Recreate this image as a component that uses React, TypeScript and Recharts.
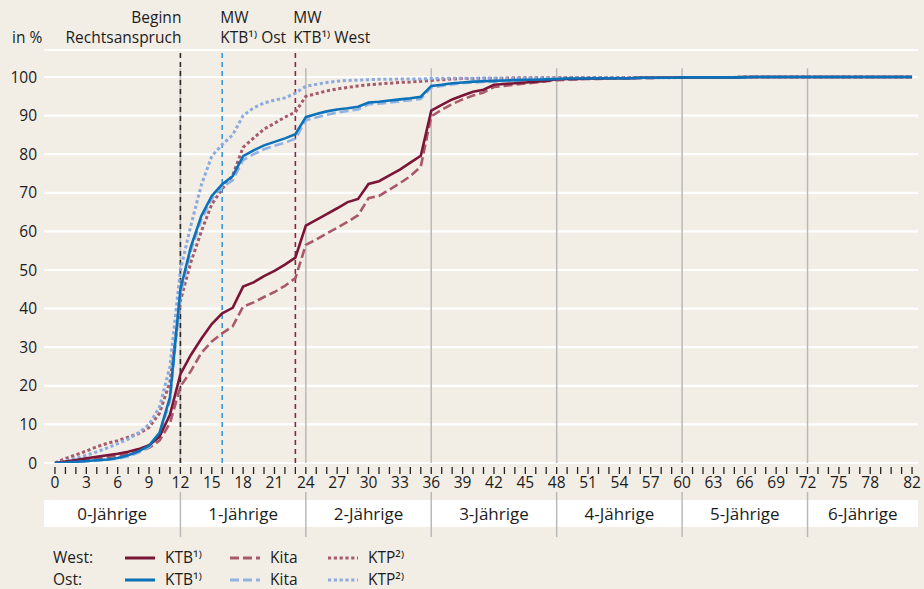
import React from 'react';
import { LineChart, Line, XAxis, YAxis, CartesianGrid, ReferenceLine, ReferenceArea, Legend } from 'recharts';

const months = [0,1,2,3,4,5,6,7,8,9,10,11,12,13,14,15,16,17,18,19,20,21,22,23,24,25,26,27,28,29,30,31,32,33,34,35,36,37,38,39,40,41,42,43,44,45,46,47,48,49,50,51,52,53,54,55,56,57,58,59,60,61,62,63,64,65,66,67,68,69,70,71,72,73,74,75,76,77,78,79,80,81,82];

const westKtb = [0,0.4,0.8,1.2,1.6,2.0,2.4,2.9,3.6,4.6,6.8,12.5,23,28,32.2,36,38.8,40.2,45.7,46.8,48.4,49.8,51.4,53.2,61.5,63,64.5,66,67.6,68.4,72.3,73,74.5,76,77.8,79.6,91.3,92.8,94.2,95.2,96.2,96.7,98,98.2,98.4,98.6,98.8,99,99.4,99.5,99.5,99.6,99.6,99.7,99.7,99.7,99.8,99.8,99.8,99.8,99.9,99.9,99.9,99.9,99.9,99.9,100,100,100,100,100,100,100,100,100,100,100,100,100,100,100,100,100];
const westKita = [0,0.3,0.6,0.9,1.2,1.5,1.9,2.4,3.0,3.9,5.8,10.3,19.8,23.8,28.5,31.5,33.6,35.4,40.5,41.6,43,44.3,45.9,47.9,56.5,57.9,59.5,60.9,62.5,64.2,68.6,69.2,70.8,72.5,74.3,76.8,89.8,91.5,93,94.2,95.2,96,97.4,97.7,98,98.3,98.6,98.9,99.2,99.3,99.4,99.5,99.5,99.6,99.6,99.7,99.7,99.7,99.8,99.8,99.8,99.9,99.9,99.9,99.9,99.9,100,100,100,100,100,100,100,100,100,100,100,100,100,100,100,100,100];
const westKtp = [0,1.2,2.1,3.1,4.2,5.1,5.8,6.7,7.6,9.2,12.9,21,42,52,60,67,71,74.5,81.8,84.2,86.5,88,89.6,90.9,95,95.7,96.4,96.9,97.3,97.7,98,98.2,98.4,98.6,98.7,98.9,99.1,99.3,99.5,99.6,99.6,99.7,99.7,99.7,99.8,99.8,99.8,99.8,99.8,99.9,99.9,99.9,99.9,99.9,99.9,99.9,99.9,99.9,99.9,99.9,99.9,99.9,99.9,99.9,99.9,99.9,100,100,100,100,100,100,100,100,100,100,100,100,100,100,100,100,100];
const ostKtb = [0,0.1,0.3,0.5,0.7,0.9,1.3,2.0,3.0,4.5,7.8,17,45,56,64,69.2,72.2,74.3,79.5,81,82.3,83.2,84.1,85.2,89.6,90.4,91.1,91.6,91.9,92.3,93.4,93.6,93.9,94.2,94.5,94.9,97.7,98,98.4,98.6,98.8,98.9,99,99.1,99.2,99.3,99.3,99.4,99.5,99.6,99.6,99.6,99.7,99.7,99.7,99.7,99.8,99.8,99.8,99.8,99.9,99.9,99.9,99.9,99.9,99.9,99.9,100,100,100,100,100,100,100,100,100,100,100,100,100,100,100,100];
const ostKita = [0,0.1,0.2,0.4,0.6,0.8,1.1,1.7,2.7,4.1,7.2,16,43.5,55,63,68.5,71.5,73.2,78.5,80,81.3,82.2,83,84,88.8,89.5,90.2,90.8,91.2,91.6,92.9,93.1,93.4,93.7,94,94.3,97.3,97.7,98.1,98.4,98.6,98.7,98.8,98.9,99,99.1,99.2,99.3,99.4,99.5,99.5,99.6,99.6,99.6,99.7,99.7,99.7,99.8,99.8,99.8,99.8,99.9,99.9,99.9,99.9,99.9,99.9,100,100,100,100,100,100,100,100,100,100,100,100,100,100,100,100];
const ostKtp = [0,0.5,1.2,2.0,2.9,3.9,5.0,6.2,7.8,10,14.5,25,50,61.5,72,79.5,82.5,85,90,92,93.3,94,94.6,95.8,97.6,98.1,98.6,98.9,99.1,99.2,99.3,99.4,99.4,99.5,99.5,99.5,99.6,99.7,99.7,99.7,99.7,99.7,99.7,99.7,99.7,99.7,99.7,99.7,99.7,99.8,99.8,99.8,99.8,99.8,99.8,99.8,99.8,99.8,99.8,99.8,99.9,99.9,99.9,99.9,99.9,99.9,100,100,100,100,100,100,100,100,100,100,100,100,100,100,100,100,100];

const yTicks = [0,10,20,30,40,50,60,70,80,90,100];
const yearBounds = [12,24,36,48,60,72];
const ageGroups = ['0-Jährige','1-Jährige','2-Jährige','3-Jährige','4-Jährige','5-Jährige','6-Jährige'];
const ageStarts = [-1.05,12,24,36,48,60,72];
const ageEnds = [12,24,36,48,60,72,82.57];

const data = months.map((m, i) => ({
  m,
  westKtb: westKtb[i],
  westKita: westKita[i],
  westKtp: westKtp[i],
  ostKtb: ostKtb[i],
  ostKita: ostKita[i],
  ostKtp: ostKtp[i],
}));

const C = {
  westKtb: '#7b1538',
  westKita: '#a85a6b',
  westKtp: '#a65a6c',
  ostKtb: '#0b72b9',
  ostKita: '#92b2e0',
  ostKtp: '#8caadd',
};

const series = [
  { key: 'westKtp', color: C.westKtp, width: 3, dash: '3.2 2.6' },
  { key: 'ostKtp', color: C.ostKtp, width: 3, dash: '3.2 2.6' },
  { key: 'westKita', color: C.westKita, width: 2.6, dash: '9 4' },
  { key: 'ostKita', color: C.ostKita, width: 2.6, dash: '9 4' },
  { key: 'westKtb', color: C.westKtb, width: 2.6, dash: undefined },
  { key: 'ostKtb', color: C.ostKtb, width: 2.6, dash: undefined },
];

const legendRows = [
  { label: 'West:', items: [
    { name: 'KTB¹⁾', color: C.westKtb, dash: undefined },
    { name: 'Kita', color: C.westKita, dash: '9 4' },
    { name: 'KTP²⁾', color: C.westKtp, dash: '3.2 2.6' },
  ] },
  { label: 'Ost:', items: [
    { name: 'KTB¹⁾', color: C.ostKtb, dash: undefined },
    { name: 'Kita', color: C.ostKita, dash: '9 4' },
    { name: 'KTP²⁾', color: C.ostKtp, dash: '3.2 2.6' },
  ] },
];

const FONT = '"Open Sans", sans-serif';
const TXT = '#1c1c1c';

function XTick(props: any) {
  const { x, y, payload } = props;
  const v = payload.value;
  const show = (v % 3 === 0 && v <= 78) || v === 82;
  return (
    <g>
      <line x1={x} x2={x} y1={y + 4} y2={y + 11} stroke="#222" strokeWidth={1.3} />
      {show && (
        <text x={x} y={y + 25} textAnchor="middle" fontSize={15.5} fill={TXT}>{v}</text>
      )}
    </g>
  );
}

function LegendContent() {
  const sx = [125, 230, 328];
  return (
    <svg width={924} height={46} style={{ display: 'block' }}>
      {legendRows.map((row, r) => {
        const cy = 15 + r * 22;
        return (
          <g key={r}>
            <text x={53} y={cy + 5} fontSize={15.5} fill={TXT}>{row.label}</text>
            {row.items.map((it, i) => (
              <g key={i}>
                <line x1={sx[i]} x2={sx[i] + 30} y1={cy} y2={cy} stroke={it.color} strokeWidth={3} strokeDasharray={it.dash} />
                <text x={sx[i] + 40} y={cy + 5} fontSize={15.5} fill={TXT}>{it.name}</text>
              </g>
            ))}
          </g>
        );
      })}
    </svg>
  );
}

function TopLabel(props: any) {
  const { viewBox, lines, anchor, dx } = props;
  const x = viewBox.x + dx;
  const y = viewBox.y;
  return (
    <g>
      {lines.map((t: string, i: number) => (
        <text key={i} x={x} y={y - 27 + i * 20} textAnchor={anchor} fontSize={15.5} fill={TXT}>{t}</text>
      ))}
    </g>
  );
}

export default function App() {
  return (
    <div style={{ position: 'absolute', left: 0, top: 0, width: 924, height: 589, background: '#f2eee6', fontFamily: FONT }}>
      <LineChart width={924} height={589} data={data} margin={{ top: 50, right: 6, bottom: 50, left: 0 }}>
        <CartesianGrid horizontal={true} vertical={false} stroke="#ffffff" strokeWidth={2.2} />
        <XAxis
          dataKey="m"
          type="number"
          domain={[-1.05, 82.57]}
          allowDataOverflow
          ticks={months}
          interval={0}
          height={30}
          axisLine={false}
          tickLine={false}
          tickSize={0}
          tickMargin={0}
          tick={<XTick />}
        />
        <YAxis
          type="number"
          domain={[0, 107]}
          allowDataOverflow
          ticks={yTicks}
          width={44}
          axisLine={false}
          tickLine={false}
          tickSize={0}
          tickMargin={7}
          tick={{ fontSize: 15.5, fill: TXT }}
          label={{ content: () => <text x={12} y={43} fontSize={15.5} fill={TXT}>in %</text> }}
        />
        {ageGroups.map((g, i) => (
          <ReferenceArea
            key={g}
            x1={ageStarts[i]}
            x2={ageEnds[i]}
            y1={-9.6}
            y2={-16.6}
            ifOverflow="visible"
            fill="#ffffff"
            fillOpacity={1}
            stroke="none"
            label={{ value: g, position: 'center', fontSize: 17, fill: TXT }}
          />
        ))}
        {yearBounds.map((b) => (
          <ReferenceLine
            key={'sep' + b}
            segment={[{ x: b, y: -7.5 }, { x: b, y: -19.2 }]}
            ifOverflow="visible"
            stroke="#b9b9b9"
            strokeWidth={1.5}
          />
        ))}
        {yearBounds.map((b) => (
          <ReferenceLine
            key={'v' + b}
            segment={[{ x: b, y: 0 }, { x: b, y: 102.3 }]}
            ifOverflow="visible"
            stroke="#b9b9b9"
            strokeWidth={1.5}
          />
        ))}
        <ReferenceLine
          segment={[{ x: 12, y: 0 }, { x: 12, y: 107 }]}
          ifOverflow="visible"
          stroke="#2b2b2b"
          strokeWidth={1.6}
          strokeDasharray="5 4"
          label={<TopLabel lines={['Beginn', 'Rechtsanspruch']} anchor="end" dx={1} />}
        />
        <ReferenceLine
          segment={[{ x: 16, y: 0 }, { x: 16, y: 107 }]}
          ifOverflow="visible"
          stroke="#3a98d6"
          strokeWidth={1.6}
          strokeDasharray="5 4"
          label={<TopLabel lines={['MW', 'KTB¹⁾ Ost']} anchor="start" dx={-2} />}
        />
        <ReferenceLine
          segment={[{ x: 23, y: 0 }, { x: 23, y: 107 }]}
          ifOverflow="visible"
          stroke="#8a2444"
          strokeWidth={1.6}
          strokeDasharray="5 4"
          label={<TopLabel lines={['MW', 'KTB¹⁾ West']} anchor="start" dx={-2} />}
        />
        {series.map((s) => (
          <Line
            key={s.key}
            dataKey={s.key}
            type="linear"
            stroke={s.color}
            strokeWidth={s.width}
            strokeDasharray={s.dash}
            dot={false}
            activeDot={false}
            isAnimationActive={false}
          />
        ))}
        <Legend
          content={() => <LegendContent />}
          wrapperStyle={{ position: 'absolute', left: 0, top: 543, width: 924, height: 46 }}
        />
      </LineChart>
    </div>
  );
}
